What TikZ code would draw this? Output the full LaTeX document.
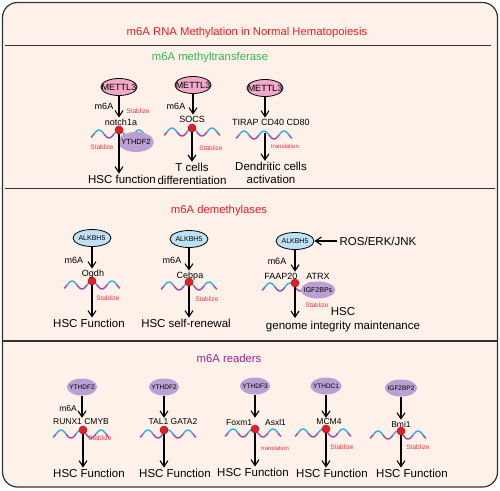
\documentclass[tikz,border=0pt]{standalone}
\usepackage{fontspec}
\setmainfont{Liberation Sans}
\usetikzlibrary{arrows.meta,shapes.geometric}

\definecolor{bgpeach}{RGB}{253,241,234}
\definecolor{framegray}{RGB}{50,50,50}
\definecolor{titlered}{RGB}{237,28,36}
\definecolor{titlegreen}{RGB}{57,181,74}
\definecolor{titlepurple}{RGB}{146,39,143}
\definecolor{mettlpink}{RGB}{241,169,201}
\definecolor{alkblue}{RGB}{190,226,245}
\definecolor{readlav}{RGB}{187,160,211}
\definecolor{wblue}{RGB}{60,178,226}
\definecolor{wpurple}{RGB}{160,82,170}
\definecolor{dotred}{RGB}{232,28,36}
\definecolor{notered}{RGB}{238,52,62}

% mRNA strand, #1 = x of the middle peak, #2 = y of the peaks
\newcommand{\rnawave}[2]{%
  \foreach \a/\b/\col in {-28/-25/wpurple,-25/-15/wblue,-15/-5/wpurple,-5/5/wblue,5/15/wpurple,15/25/wblue,25/28/wpurple}
    \draw[color=\col,line width=1.5pt,domain=\a:\b,samples=12,smooth]
      plot ({#1+\x},{#2+4-4*cos(18*\x)});
}

\begin{document}
\begin{tikzpicture}[x=1pt,y=-1pt,
    arr/.style={-{Straight Barb[length=6pt,width=8pt,line width=1.1pt]},line width=1.2pt},
    writer/.style={ellipse,draw,line width=0.8pt,fill=mettlpink,minimum height=17pt,
      inner xsep=-4.5pt,inner ysep=0pt,font=\fontsize{9}{9}\selectfont},
    eraser/.style={ellipse,draw,line width=0.8pt,fill=alkblue,minimum width=38pt,
      minimum height=17pt,inner sep=0pt,font=\fontsize{7}{7}\selectfont},
    reader/.style={ellipse,fill=readlav,minimum height=17pt,inner xsep=-2pt,
      inner ysep=0pt,font=\fontsize{6.5}{7}\selectfont},
    site/.style={circle,fill=dotred,draw=dotred!75!black,line width=0.5pt,
      minimum size=8pt,inner sep=0pt},
    gene/.style={font=\fontsize{9}{10}\selectfont,inner sep=1pt},
    note/.style={text=notered,font=\fontsize{6.5}{7}\selectfont,inner sep=0pt},
    outcome/.style={font=\fontsize{11.5}{13.5}\selectfont,align=center,inner sep=1pt},
    heading/.style={font=\fontsize{11.3}{13}\selectfont}]

  \useasboundingbox (0,0) rectangle (500,490);

  % frame and section rules
  \draw[rounded corners=15pt,fill=bgpeach,draw=framegray,line width=1.2pt]
    (2.5,2.5) rectangle (497.5,487);
  \draw[framegray,line width=1pt] (5,45) -- (491,45);
  \draw[framegray,line width=1pt] (5,188) -- (495,188);
  \draw[framegray,line width=2pt] (3,341) -- (497,341);

  % headings
  \node[heading,text=titlered]    (head)  at (247,33)  {m6A RNA Methylation in Normal Hematopoiesis};
  \node[heading,text=titlegreen]  (head1) at (210,58)  {m6A methyltransferase};
  \node[heading,text=titlered]    (head2) at (219,211) {m6A demethylases};
  \node[heading,text=titlepurple] (head3) at (229,358) {m6A readers};

  % strands
  \rnawave{119}{130}
  \rnawave{192}{128}
  \rnawave{264}{131}
  \rnawave{92}{281}
  \rnawave{189}{282}
  \rnawave{290}{283}
  \rnawave{81}{430}
  \rnawave{168}{430}
  \rnawave{253}{429}
  \rnawave{323}{429}
  \rnawave{398}{431}

  % enzymes and binders
  \begin{scope}[every node/.style={writer}]
    \node (w1) at (119,87) {METTL3};
    \node (w2) at (193,85) {METTL3};
    \node (w3) at (265,88) {METTL3};
  \end{scope}

  \begin{scope}[every node/.style={eraser}]
    \node (a1) at (92,238)  {ALKBH5};
    \node (a2) at (189,239) {ALKBH5};
    \node (a3) at (295,241) {ALKBH5};
  \end{scope}

  \begin{scope}[every node/.style={reader}]
    \node[minimum height=20pt,font=\fontsize{7.5}{8}\selectfont] (y1) at (136,142) {YTHDF2};
    \node[font=\fontsize{7}{7}\selectfont] (igf) at (318,290) {IGF2BPs};
    \node (r1) at (82,387)  {YTHDF2};
    \node (r2) at (164,387) {YTHDF2};
    \node (r3) at (255,386) {YTHDF3};
    \node (r4) at (326,386) {YTHDC1};
    \node (r5) at (401,388) {IGF2BP2};
  \end{scope}

  % m6A sites
  \begin{scope}[every node/.style={site}]
    \node (d11) at (119,130) {};
    \node (d12) at (192,128) {};
    \node (d21) at (92,281)  {};
    \node (d22) at (189,282) {};
    \node (d23) at (295,283) {};
    \node (d31) at (83,430)  {};
    \node (d32) at (164,430) {};
    \node (d33) at (255,429) {};
    \node (d34) at (326,429) {};
    \node (d35) at (401,431) {};
  \end{scope}
  \coordinate (d13) at (265,133);
  \coordinate (t23) at (295,318);

  % targets
  \begin{scope}[every node/.style={gene}]
    \node (g11) at (121,122) {notch1a};
    \node (g12) at (192,119) {SOCS};
    \node (g13) at (271,122) {TIRAP CD40 CD80};
    \node (g21) at (93,274)  {Ogdh};
    \node (g22) at (190,276) {Cebpa};
    \node (g23) at (297,276) {FAAP20\hspace{9pt}ATRX};
    \node[font=\fontsize{8.5}{9}\selectfont] (g31) at (81,422)  {RUNX1 CMYB};
    \node[font=\fontsize{8.5}{9}\selectfont] (g32) at (173,422) {TAL1 GATA2};
    \node[font=\fontsize{8.5}{9}\selectfont] (g33) at (256,422) {Foxm1\hspace{13pt}Asxl1};
    \node[font=\fontsize{8.5}{9}\selectfont] (g34) at (329,422) {MCM4};
    \node[font=\fontsize{8.5}{9}\selectfont] (g35) at (401,424) {Bmi1};
    \node (m11) at (104,106) {m6A};
    \node (m12) at (176,106) {m6A};
    \node (m21) at (74,260)  {m6A};
    \node (m22) at (172,260) {m6A};
    \node (m23) at (277,261) {m6A};
    \node[font=\fontsize{8.5}{9}\selectfont] (m31) at (68,409) {m6A};
  \end{scope}

  \begin{scope}[every node/.style={note}]
    \node (s11) at (138,111) {Stablize};
    \node (s12) at (102,147) {Stablize};
    \node (s13) at (211,148) {Stablize};
    \node[font=\fontsize{6}{6}\selectfont] (s14) at (285,146) {translation};
    \node (s21) at (108,298) {Stablize};
    \node (s22) at (207,299) {Stablize};
    \node (s23) at (317,305) {Stablize};
    \node (s31) at (100,438) {Stablize};
    \node[font=\fontsize{6}{6}\selectfont] (s33) at (275,448) {translation};
    \node (s34) at (342,447) {Stablize};
    \node (s35) at (418,447) {Stablize};
  \end{scope}

  % outcomes
  \begin{scope}[every node/.style={outcome}]
    \node (o11) at (122,179) {HSC function};
    \node (o12) at (192,174) {T cells\\differentiation};
    \node (o13) at (271,173) {Dendritic cells\\activation};
    \node (o21) at (89,323)  {HSC Function};
    \node (o22) at (186,323) {HSC self-renewal};
    \node (o23) at (343,319.5) {HSC\\genome integrity maintenance};
    \node (o31) at (89,473)  {HSC Function};
    \node (o32) at (175,473) {HSC Function};
    \node (o33) at (253,472) {HSC Function};
    \node (o34) at (332,473) {HSC Function};
    \node (o35) at (412,473) {HSC Function};
    \node[inner sep=2pt] (ros) at (378,241) {ROS/ERK/JNK};
  \end{scope}

  % arrows
  \begin{scope}[every edge/.style={draw,arr}]
    \path (w1) edge (w1 |- g11.north);
    \path (w2) edge (w2 |- g12.north);
    \path (w3) edge (w3 |- g13.north);
    \path (d11) edge (d11 |- o11.north);
    \path (d12) edge (d12 |- o12.north);
    \path (d13) edge (d13 |- o13.north);

    \path (ros) edge (a3);
    \path (a1) edge (a1 |- g21.north);
    \path (a2) edge (a2 |- g22.north);
    \path (a3) edge (a3 |- g23.north);
    \path (d21) edge (d21 |- o21.north);
    \path (d22) edge (d22 |- o22.north);
    \path (d23) edge (t23);

    \path (r1) edge (r1 |- g31.north);
    \path (r2) edge (r2 |- g32.north);
    \path (r3) edge (r3 |- g33.north);
    \path (r4) edge (r4 |- g34.north);
    \path (r5) edge (r5 |- g35.north);
    \path (d31) edge (d31 |- o31.north);
    \path (d32) edge (d32 |- o32.north);
    \path (d33) edge (d33 |- o33.north);
    \path (d34) edge (d34 |- o34.north);
    \path (d35) edge (d35 |- o35.north);
  \end{scope}

\end{tikzpicture}
\end{document}
